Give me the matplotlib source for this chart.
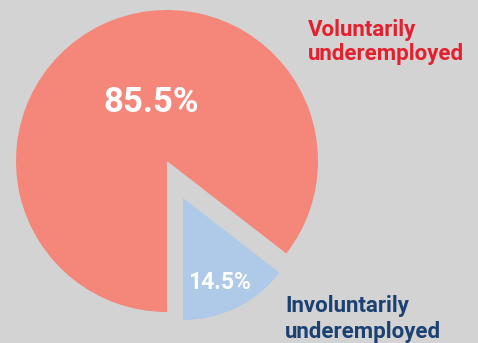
import matplotlib.pyplot as plt

# share of underemployed workers
labels = ["Voluntarily\nunderemployed", "Involuntarily\nunderemployed"]
shares = [85.5, 14.5]
pct_text = ["85.5%", "14.5%"]

bg = "#d3d3d3"
slice_colors = ["#f4867a", "#aecae8"]
label_colors = ["#e3212e", "#1b4173"]

fig = plt.figure(figsize=(4.78, 3.43), dpi=100, facecolor=bg)
ax = fig.add_axes([0, 0, 1, 1])
ax.set_facecolor(bg)

# big slice, drawn alone (the small one is left blank here)
ax.pie(shares, colors=[slice_colors[0], "none"], startangle=-90 + 360 * shares[1] / 100,
       center=(167, 182), radius=151, wedgeprops=dict(linewidth=0))
# small slice, pulled out and a bit smaller
ax.pie(shares, colors=["none", slice_colors[1]], startangle=-90 + 360 * shares[1] / 100,
       center=(183, 145), radius=122, wedgeprops=dict(linewidth=0))

ax.set_xlim(0, 478)
ax.set_ylim(0, 343)
ax.set_aspect("equal")
ax.axis("off")

ax.text(151, 343 - 112, pct_text[0], color="white", fontsize=25, fontweight="bold",
        ha="center", va="baseline", family="Roboto")
ax.text(220, 343 - 289, pct_text[1], color="white", fontsize=16.5, fontweight="bold",
        ha="center", va="baseline", family="Roboto")

# labels, one line at a time so the baselines sit where they should
label_pos = [(308, [36, 60]), (285, [312, 338])]
for lab, col, (x, ys) in zip(labels, label_colors, label_pos):
    for line, y in zip(lab.split("\n"), ys):
        ax.text(x, 343 - y, line, color=col, fontsize=16, fontweight="bold",
                ha="left", va="baseline", family="Roboto")

fig.savefig("out.png", dpi=100, facecolor=bg)
